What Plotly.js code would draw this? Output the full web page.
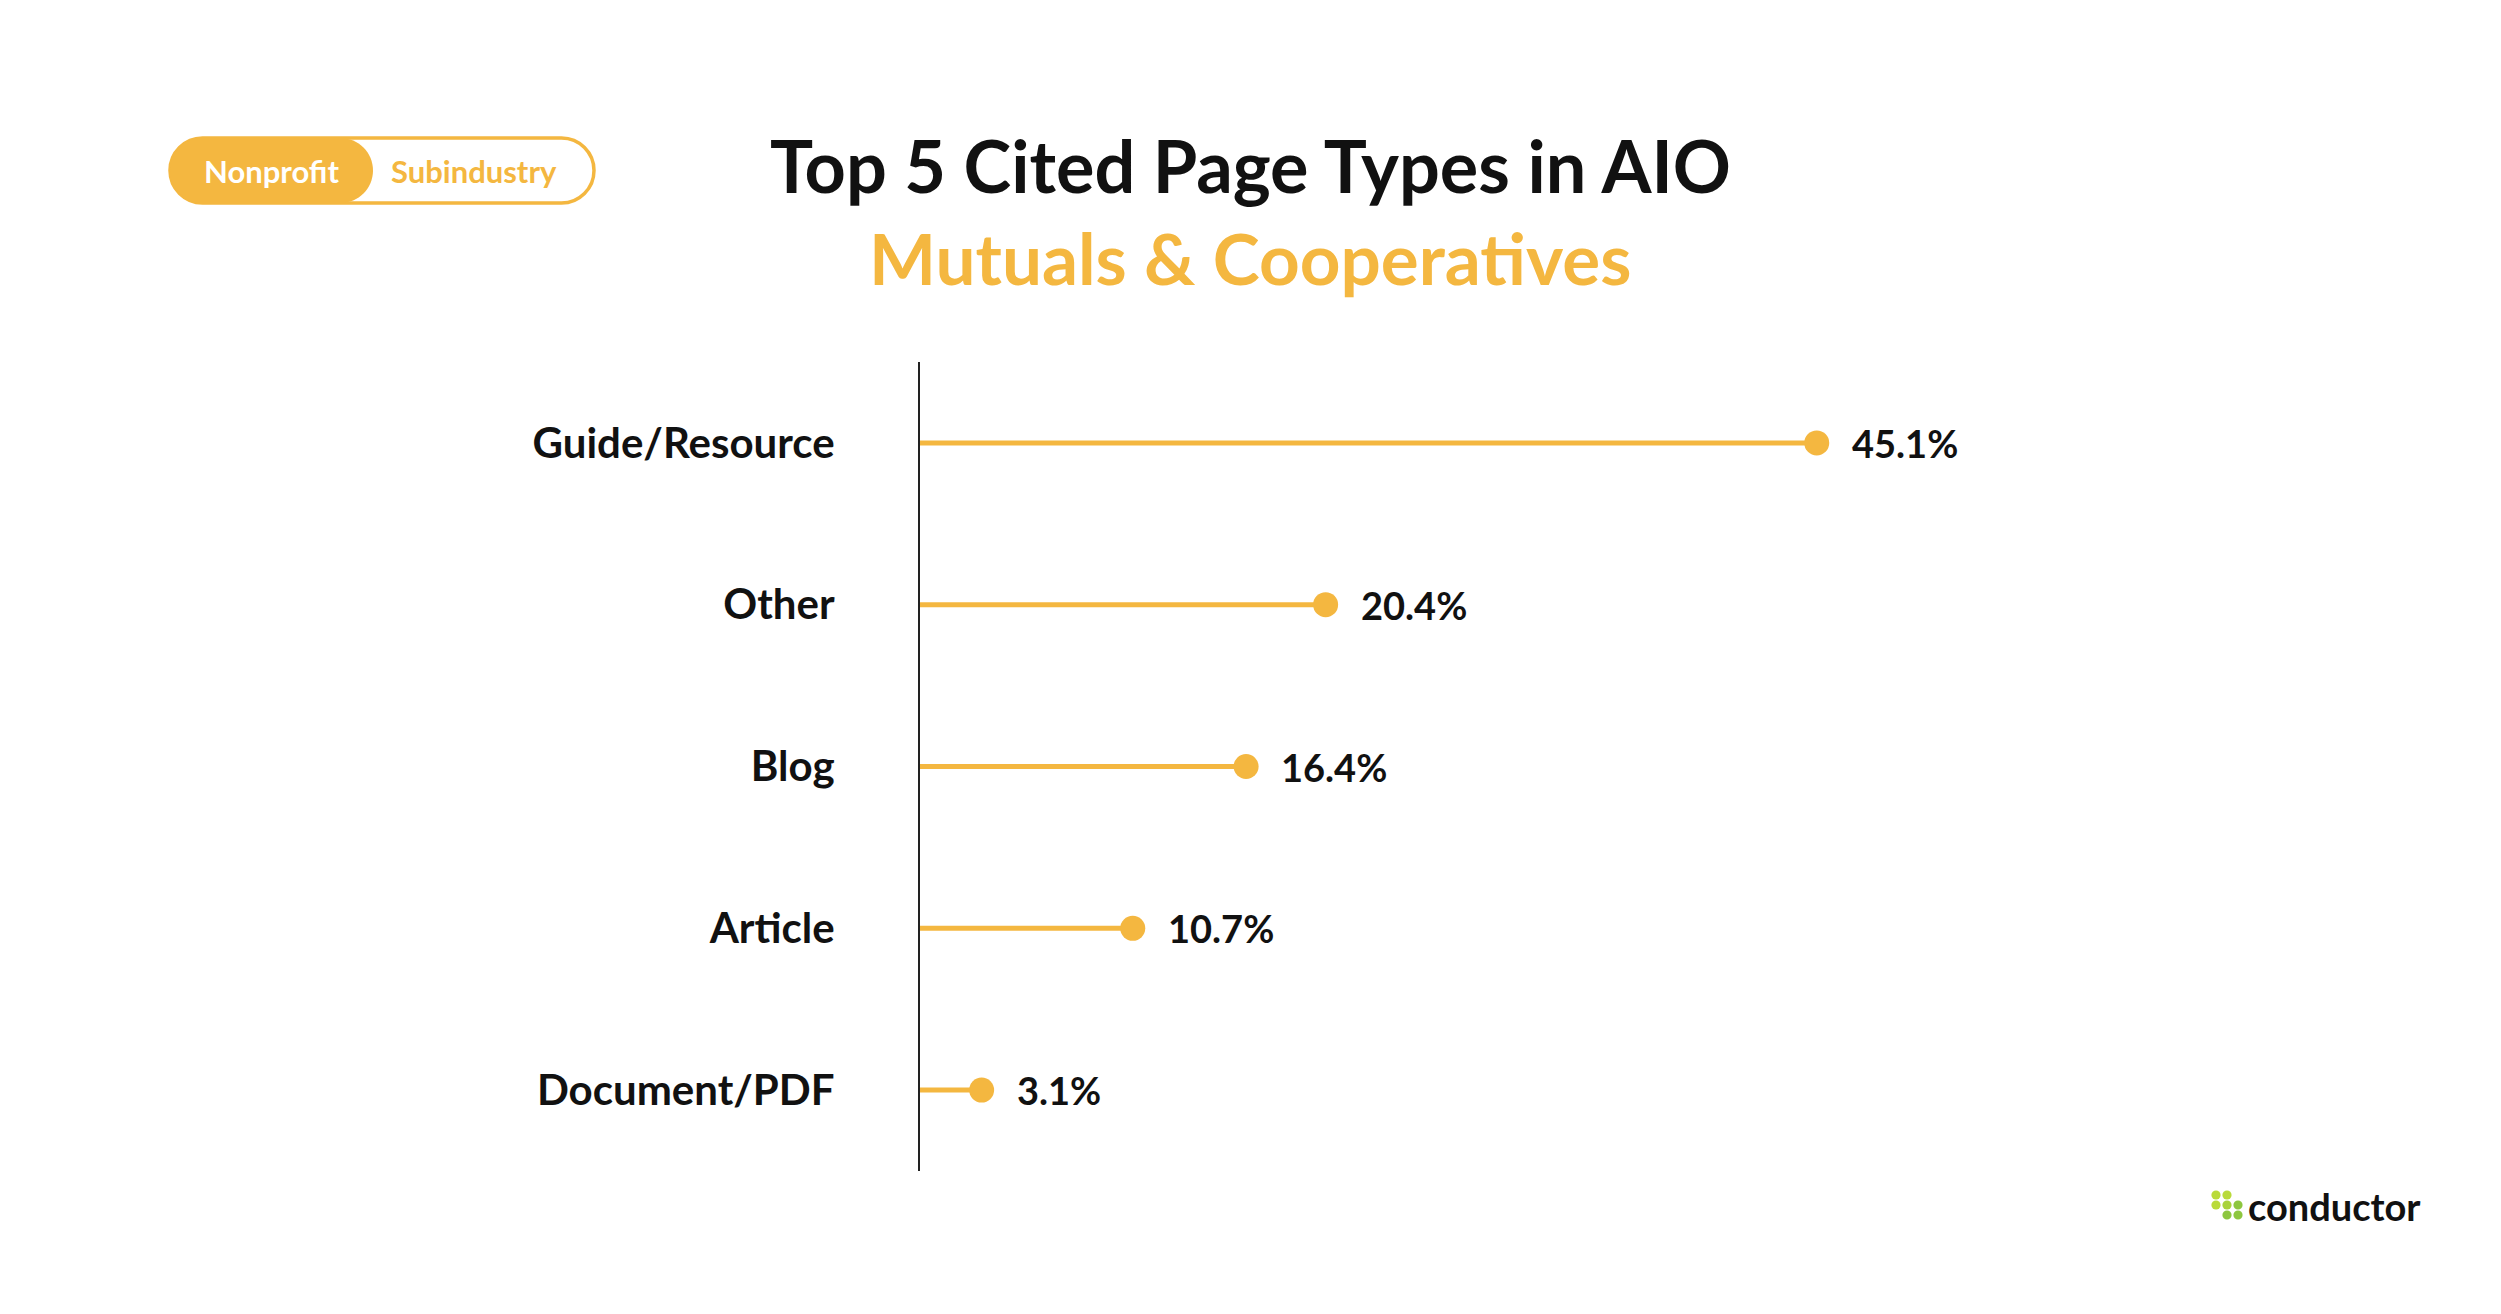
<!DOCTYPE html>
<html>
<head>
<meta charset="utf-8">
<script src="https://cdn.plot.ly/plotly-3.0.1.min.js"></script>
<style>
html,body{margin:0;padding:0;background:#fff;}
#chart{width:2501px;height:1314px;}
</style>
</head>
<body>
<div id="chart"></div>
<script>
// ---- data ----
const categories = ["Guide/Resource", "Other", "Blog", "Article", "Document/PDF"];
const values = [45.1, 20.4, 16.4, 10.7, 3.1];
const valueLabels = ["45.1%", "20.4%", "16.4%", "10.7%", "3.1%"];
const titleText = "Top 5 Cited Page Types in AIO";
const subtitleText = "Mutuals & Cooperatives";
const pillLabels = ["Nonprofit", "Subindustry"];
const logoText = "conductor";

// ---- layout geometry ----
const W = 2501, Hh = 1314;
const mL = 920, mR = 388, mT = 362, mB = 143;
const PW = W - mL - mR, PH = Hh - mT - mB;
const X = px => (px - mL) / PW;
const Y = py => (mT + PH - py) / PH;

const ACCENT = "#F4B740";
const FONT = "Lato, 'Noto Sans', sans-serif";

// lollipop stems
const stemX = [], stemY = [];
categories.forEach((c, i) => {
  stemX.push(0, values[i], null);
  stemY.push(c, c, null);
});

const traces = [
  {
    type: "scatter", mode: "lines", x: stemX, y: stemY,
    line: {color: ACCENT, width: 5}, hoverinfo: "skip", showlegend: false
  },
  {
    type: "scatter", mode: "markers", x: values, y: categories,
    marker: {color: ACCENT, size: 25, line: {width: 0}},
    showlegend: false
  }
];

const annotations = [];
categories.forEach((c, i) => {
  annotations.push({
    x: values[i], y: c, xref: "x", yref: "y", text: valueLabels[i],
    showarrow: false, xanchor: "left", yanchor: "middle", xshift: 33,
    font: {family: FONT, size: 38, color: "#111111", weight: 700}
  });
});
// title & subtitle
annotations.push({
  x: X(1250), y: Y(165), xref: "paper", yref: "paper", text: titleText,
  showarrow: false, xanchor: "center", yanchor: "middle",
  font: {family: FONT, size: 72, color: "#111111", weight: 700}
});
annotations.push({
  x: X(1250), y: Y(257), xref: "paper", yref: "paper", text: subtitleText,
  showarrow: false, xanchor: "center", yanchor: "middle",
  font: {family: FONT, size: 71, color: ACCENT, weight: 700}
});
// pill labels
annotations.push({
  x: X(271), y: Y(171), xref: "paper", yref: "paper", text: pillLabels[0],
  showarrow: false, xanchor: "center", yanchor: "middle",
  font: {family: FONT, size: 31, color: "#ffffff", weight: 700}
});
annotations.push({
  x: X(474), y: Y(171), xref: "paper", yref: "paper", text: pillLabels[1],
  showarrow: false, xanchor: "center", yanchor: "middle",
  font: {family: FONT, size: 31, color: ACCENT, weight: 700}
});
// logo text
annotations.push({
  x: X(2246), y: Y(1206), xref: "paper", yref: "paper", text: logoText,
  showarrow: false, xanchor: "left", yanchor: "middle",
  font: {family: FONT, size: 38, color: "#111111", weight: 700}
});

// pill path helper (pixel coords -> paper)
function pillPath(x0, y0, x1, y1) {
  const r = (y1 - y0) / 2, k = 0.5523 * r;
  const P = (x, y) => X(x).toFixed(5) + "," + Y(y).toFixed(5);
  let d = "M" + P(x0 + r, y0);
  d += " L" + P(x1 - r, y0);
  d += " C" + P(x1 - r + k, y0) + " " + P(x1, y0 + r - k) + " " + P(x1, y0 + r);
  d += " C" + P(x1, y0 + r + k) + " " + P(x1 - r + k, y1) + " " + P(x1 - r, y1);
  d += " L" + P(x0 + r, y1);
  d += " C" + P(x0 + r - k, y1) + " " + P(x0, y0 + r + k) + " " + P(x0, y0 + r);
  d += " C" + P(x0, y0 + r - k) + " " + P(x0 + r - k, y0) + " " + P(x0 + r, y0);
  return d + " Z";
}

const shapes = [
  {type: "path", xref: "paper", yref: "paper", path: pillPath(170, 138, 594, 203),
   fillcolor: "#ffffff", line: {color: ACCENT, width: 3.5}, layer: "above"},
  {type: "path", xref: "paper", yref: "paper", path: pillPath(170, 138, 373, 203),
   fillcolor: ACCENT, line: {color: ACCENT, width: 0}, layer: "above"}
];
// logo dots
const dotCenters = [
  [2216, 1195, "#B9DA3A"], [2227, 1195, "#B9DA3A"],
  [2216, 1205, "#B9DA3A"], [2227, 1205, "#A9D23A"], [2238, 1205, "#8DC63F"],
  [2227, 1215, "#8DC63F"], [2238, 1215, "#8DC63F"]
];
dotCenters.forEach(([cx, cy, col]) => {
  const r = 4.6;
  shapes.push({type: "circle", xref: "paper", yref: "paper",
    x0: X(cx - r), x1: X(cx + r), y0: Y(cy + r), y1: Y(cy - r),
    fillcolor: col, line: {width: 0}, layer: "above"});
});

const layout = {
  width: W, height: Hh,
  margin: {l: mL, r: mR, t: mT, b: mB, pad: 0},
  paper_bgcolor: "#ffffff", plot_bgcolor: "#ffffff",
  showlegend: false,
  xaxis: {range: [0, 60], visible: false, showgrid: false, zeroline: false, fixedrange: true},
  yaxis: {
    type: "category", categoryorder: "array", categoryarray: categories,
    range: [categories.length - 0.5, -0.5],
    showline: true, linecolor: "#222222", linewidth: 2,
    showgrid: false, zeroline: false, ticks: "", ticklabelstandoff: 75,
    tickfont: {family: FONT, size: 42, color: "#111111", weight: 700},
    fixedrange: true
  },
  annotations: annotations,
  shapes: shapes
};

Plotly.newPlot("chart", traces, layout, {displayModeBar: false, staticPlot: true});
</script>
</body>
</html>
